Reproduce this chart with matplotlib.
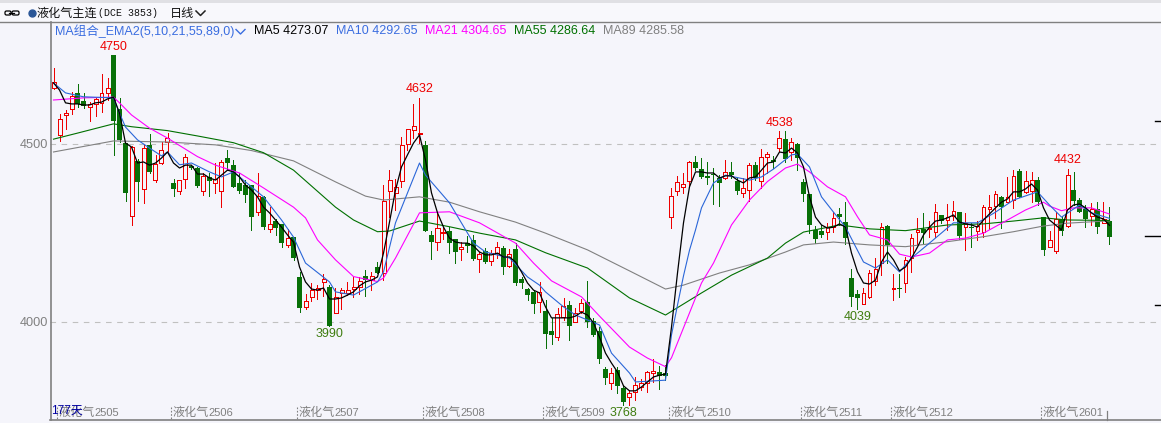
import matplotlib
matplotlib.use('Agg')
import matplotlib.pyplot as plt
from matplotlib.patches import Rectangle, FancyBboxPatch
from matplotlib.lines import Line2D

plt.rcParams['font.family'] = ['Noto Sans CJK SC', 'DejaVu Sans']

W, H = 1161, 423
BG = '#f5f5fb'
RED = '#ee0000'
GREEN = '#087008'

opens = [4658, 4527, 4582, 4601, 4644, 4621, 4604, 4613, 4617, 4644,
         4750, 4599, 4503, 4300, 4454, 4376, 4498, 4400, 4447, 4506,
         4391, 4368, 4404, 4441, 4433, 4370, 4410, 4391, 4368, 4461,
         4442, 4391, 4386, 4386, 4311, 4352, 4264, 4286, 4277, 4217,
         4239, 4127, 4044, 4071, 4090, 4113, 4099, 4026, 4082, 4084,
         4095, 4101, 4131, 4119, 4155, 4138, 4368, 4365, 4398, 4500,
         4540, 4529, 4499, 4245, 4225, 4251, 4257, 4234, 4206, 4222,
         4231, 4177, 4200, 4174, 4194, 4208, 4160, 4207, 4122, 4094,
         4087, 4058, 4032, 3976, 3960, 4016, 4049, 4002, 4033, 4057,
         4005, 3976, 3868, 3831, 3867, 3816, 3792, 3806, 3820, 3831,
         3859, 3860, 3857, 4295, 4370, 4382, 4398, 4452, 4430, 4412,
         4417, 4407, 4405, 4423, 4398, 4363, 4371, 4442, 4398, 4464,
         4456, 4489, 4515, 4480, 4501, 4394, 4361, 4260, 4258, 4255,
         4267, 4304, 4281, 4124, 4080, 4053, 4073, 4116, 4166, 4271,
         4093, 4096, 4110, 4180, 4255, 4262, 4262, 4253, 4302, 4288,
         4299, 4310, 4267, 4269, 4258, 4255, 4319, 4328, 4353, 4339,
         4343, 4426, 4366, 4370, 4400, 4295, 4213, 4200, 4290, 4272,
         4372, 4343, 4318, 4300, 4318, 4279, 4285]
closes = [4676, 4573, 4588, 4636, 4614, 4608, 4614, 4629, 4646, 4660,
          4567, 4513, 4365, 4492, 4396, 4489, 4423, 4445, 4484, 4517,
          4375, 4399, 4464, 4434, 4383, 4412, 4398, 4403, 4450, 4449,
          4382, 4368, 4358, 4295, 4356, 4269, 4276, 4266, 4224, 4236,
          4182, 4042, 4061, 4090, 4098, 4121, 3991, 4073, 4090, 4090,
          4099, 4117, 4119, 4132, 4140, 4342, 4400, 4382, 4498, 4543,
          4551, 4531, 4258, 4226, 4265, 4255, 4222, 4199, 4211, 4216,
          4178, 4192, 4171, 4194, 4213, 4157, 4192, 4112, 4112, 4077,
          4052, 4085, 3968, 3965, 4023, 4047, 3991, 4028, 4054, 4002,
          3965, 3897, 3845, 3857, 3823, 3776, 3801, 3825, 3829, 3860,
          3863, 3851, 3851, 4355, 4394, 4389, 4452, 4433, 4410, 4407,
          4413, 4393, 4422, 4414, 4368, 4377, 4442, 4407, 4464, 4472,
          4450, 4519, 4460, 4508, 4461, 4360, 4274, 4235, 4246, 4267,
          4293, 4295, 4238, 4073, 4070, 4082, 4138, 4149, 4269, 4218,
          4096, 4093, 4175, 4237, 4260, 4252, 4266, 4311, 4285, 4295,
          4312, 4243, 4279, 4265, 4271, 4324, 4325, 4360, 4325, 4352,
          4411, 4352, 4397, 4399, 4338, 4205, 4231, 4290, 4258, 4413,
          4342, 4310, 4290, 4318, 4269, 4291, 4241]
highs = [4714, 4585, 4597, 4648, 4670, 4644, 4620, 4634, 4698, 4686,
         4750, 4630, 4503, 4497, 4458, 4498, 4530, 4470, 4508, 4533,
         4402, 4399, 4473, 4443, 4438, 4419, 4419, 4447, 4456, 4485,
         4456, 4419, 4400, 4386, 4419, 4355, 4325, 4292, 4277, 4264,
         4239, 4141, 4080, 4110, 4105, 4136, 4105, 4096, 4096, 4113,
         4129, 4129, 4147, 4141, 4169, 4386, 4428, 4403, 4520, 4543,
         4614, 4632, 4510, 4257, 4307, 4269, 4269, 4234, 4227, 4244,
         4246, 4199, 4208, 4204, 4227, 4215, 4206, 4222, 4129, 4096,
         4091, 4113, 4063, 4012, 4040, 4068, 4060, 4040, 4066, 4117,
         4012, 3988, 3876, 3871, 3876, 3824, 3809, 3846, 3841, 3865,
         3897, 3878, 3881, 4377, 4412, 4419, 4455, 4468, 4463, 4452,
         4433, 4414, 4456, 4452, 4405, 4405, 4447, 4452, 4487, 4478,
         4468, 4538, 4538, 4517, 4503, 4402, 4361, 4271, 4274, 4279,
         4311, 4321, 4338, 4149, 4091, 4096, 4148, 4180, 4279, 4274,
         4136, 4136, 4185, 4249, 4293, 4307, 4285, 4332, 4302, 4332,
         4341, 4310, 4307, 4279, 4285, 4330, 4358, 4368, 4355, 4408,
         4428, 4430, 4426, 4422, 4408, 4295, 4258, 4309, 4299, 4432,
         4424, 4351, 4330, 4335, 4339, 4339, 4324]
lows = [4655, 4511, 4544, 4586, 4604, 4602, 4567, 4580, 4592, 4625,
        4470, 4508, 4341, 4273, 4340, 4337, 4420, 4396, 4445, 4475,
        4354, 4361, 4377, 4431, 4382, 4358, 4355, 4365, 4325, 4428,
        4382, 4365, 4339, 4260, 4302, 4264, 4253, 4246, 4213, 4213,
        4175, 4030, 4038, 4061, 4066, 4075, 3990, 4026, 4038, 4077,
        4071, 4080, 4075, 4091, 4138, 4120, 4297, 4316, 4382, 4485,
        4517, 4503, 4258, 4178, 4204, 4235, 4196, 4166, 4176, 4199,
        4176, 4143, 4166, 4162, 4180, 4136, 4157, 4106, 4096, 4063,
        4028, 4030, 3929, 3940, 3951, 4007, 3951, 4002, 4026, 3988,
        3962, 3885, 3826, 3813, 3801, 3768, 3768, 3782, 3809, 3806,
        3834, 3812, 3839, 4266, 4358, 4363, 4386, 4428, 4407, 4389,
        4333, 4328, 4403, 4405, 4361, 4352, 4341, 4400, 4377, 4419,
        4433, 4483, 4452, 4456, 4428, 4342, 4251, 4224, 4239, 4235,
        4255, 4274, 4221, 4047, 4039, 4052, 4068, 4106, 4134, 4166,
        4063, 4072, 4087, 4143, 4221, 4222, 4241, 4241, 4279, 4260,
        4288, 4234, 4204, 4213, 4232, 4241, 4262, 4293, 4265, 4339,
        4321, 4352, 4363, 4338, 4330, 4190, 4211, 4196, 4246, 4267,
        4330, 4309, 4269, 4274, 4252, 4279, 4221]

ma5 = [4673, 4653, 4617, 4614, 4614, 4611, 4611, 4617, 4619, 4628,
       4633, 4588, 4504, 4493, 4448, 4451, 4442, 4448, 4462, 4479,
       4448, 4434, 4442, 4442, 4417, 4417, 4406, 4400, 4414, 4428,
       4423, 4409, 4386, 4372, 4353, 4324, 4308, 4288, 4268, 4246,
       4226, 4156, 4114, 4094, 4091, 4097, 4066, 4066, 4069, 4077,
       4086, 4103, 4114, 4119, 4128, 4195, 4282, 4372, 4437, 4471,
       4504, 4527, 4456, 4364, 4308, 4268, 4237, 4226, 4223, 4223,
       4215, 4198, 4190, 4190, 4195, 4184, 4184, 4170, 4142, 4111,
       4091, 4083, 4044, 4013, 4013, 4013, 4013, 4018, 4029, 4021,
       3999, 3959, 3914, 3886, 3861, 3822, 3808, 3808, 3819, 3833,
       3847, 3852, 3855, 3987, 4139, 4280, 4381, 4423, 4423, 4420,
       4420, 4406, 4412, 4412, 4400, 4392, 4406, 4409, 4428, 4448,
       4451, 4479, 4476, 4490, 4476, 4437, 4353, 4296, 4274, 4265,
       4268, 4277, 4268, 4195, 4142, 4111, 4108, 4119, 4170, 4198,
       4176, 4145, 4156, 4181, 4212, 4246, 4268, 4285, 4288, 4294,
       4302, 4282, 4277, 4274, 4268, 4288, 4305, 4322, 4338, 4347,
       4367, 4367, 4375, 4389, 4372, 4322, 4288, 4274, 4260, 4316,
       4330, 4333, 4322, 4308, 4296, 4291, 4273.07]

ma10_i = [0, 2, 5, 10, 11, 12, 14, 16, 18, 19, 21, 23, 26, 28, 30, 32, 35, 38, 40, 42,
          46, 47, 50, 54, 55, 57, 61, 62, 66, 70, 72, 76, 79, 81, 82, 85, 87, 91, 93, 96,
          97, 102, 103, 104, 105, 106, 107, 108, 110, 112, 116, 118, 120, 123, 124, 126,
          128, 130, 132, 135, 137, 139, 141, 143, 146, 150, 154, 157, 160, 164, 166, 168,
          171, 173, 176]
ma10 = [4673, 4645, 4634, 4631, 4588, 4549, 4513, 4490, 4468, 4479, 4443, 4448, 4423, 4409, 4423, 4395, 4353, 4288, 4240, 4167,
        4114, 4086, 4077, 4114, 4142, 4280, 4448, 4414, 4336, 4223, 4198, 4181, 4128, 4105, 4086, 4044, 4021, 3993, 3914, 3858,
        3833, 3838, 3965, 4049, 4131, 4203, 4260, 4322, 4392, 4414, 4400, 4409, 4431, 4471, 4473, 4437,
        4353, 4310, 4268, 4170, 4153, 4176, 4142, 4181, 4223, 4280, 4280, 4310, 4344, 4367, 4330, 4296,
        4330, 4308, 4292.65]

ma21_i = [0, 5, 10, 11, 13, 16, 19, 24, 27, 31, 35, 40, 42, 44, 47, 50, 54, 55, 57, 61,
          66, 71, 77, 80, 83, 88, 91, 96, 99, 102, 103, 105, 108, 110, 113, 116, 119, 122, 124, 126,
          129, 132, 134, 136, 139, 141, 143, 146, 149, 152, 155, 159, 162, 165, 166, 168, 170, 173, 176]
ma21 = [4625, 4631, 4633, 4617, 4583, 4546, 4518, 4466, 4442, 4420, 4378, 4324, 4294, 4232, 4176, 4129, 4115, 4125, 4181, 4308,
        4311, 4280, 4223, 4167, 4117, 4072, 4018, 3931, 3900, 3876, 3901, 3985, 4111, 4167, 4274, 4344, 4396, 4434, 4445, 4423,
        4381, 4353, 4297, 4246, 4232, 4192, 4184, 4195, 4232, 4237, 4251, 4288, 4316, 4338, 4327, 4314, 4322, 4322, 4304.65]

ma55_i = [0, 4, 10, 13, 19, 24, 30, 35, 40, 47, 50, 54, 56, 61, 66, 71, 77, 82, 89, 93,
          96, 102, 108, 113, 119, 122, 125, 131, 136, 142, 149, 155, 160, 165, 169, 176]
ma55 = [4515, 4532, 4558, 4550, 4539, 4524, 4505, 4477, 4428, 4324, 4288, 4255, 4257, 4285, 4269, 4251, 4232, 4196, 4153, 4105,
        4069, 4021, 4083, 4133, 4181, 4223, 4254, 4274, 4263, 4258, 4274, 4277, 4285, 4294, 4288, 4286.64]

ma89_i = [0, 10, 19, 27, 33, 40, 47, 52, 55, 61, 66, 71, 77, 82, 89, 96, 102, 105, 111, 116,
          122, 125, 130, 136, 142, 149, 155, 160, 165, 169, 176]
ma89 = [4479, 4510, 4507, 4499, 4483, 4454, 4395, 4355, 4344, 4353, 4338, 4311, 4282, 4251, 4204, 4145, 4094, 4105, 4139, 4162,
        4198, 4218, 4226, 4218, 4213, 4227, 4241, 4255, 4271, 4279, 4285.58]

month_labels = ['液化气2505', '液化气2506', '液化气2507', '液化气2508', '液化气2509',
                '液化气2510', '液化气2511', '液化气2512', '液化气2601']
month_idx = [1, 20, 41, 62, 82, 103, 125, 140, 165]
peaks = [(10, 4750, True), (61, 4632, True), (121, 4538, True), (169, 4432, True),
         (46, 3990, False), (134, 4039, False), (95, 3768, False)]


def main():
    fig = plt.figure(figsize=(W / 100, H / 100), dpi=100, facecolor=BG)

    # pixel overlay for the header and the frame
    pix = fig.add_axes([0, 0, 1, 1], zorder=5)
    pix.set_xlim(0, W)
    pix.set_ylim(H, 0)
    pix.axis('off')
    pix.patch.set_alpha(0)

    ax = fig.add_axes([50 / W, (H - 420) / H, (W - 50) / W, 398 / H], zorder=1)
    ax.set_facecolor(BG)
    # 6 px per candle, 500 price units = 178 px
    ax.set_xlim((50 - 53.5) / 6, (W - 53.5) / 6)
    ax.set_ylim(4000 - (420 - 322.5) * 500 / 178, 4500 + (144.5 - 22) * 500 / 178)
    for s in ax.spines.values():
        s.set_visible(False)
    ax.set_xticks([])
    ax.set_yticks([])

    for p in (4500, 4000):
        ax.axhline(p, color='#c0c0c0', lw=0.8, dashes=(5, 5), zorder=1)

    for i in range(len(opens)):
        up = closes[i] >= opens[i]
        c = RED if up else GREEN
        ax.vlines(i, lows[i], highs[i], color=c, lw=0.72, zorder=2, antialiased=False)
        bottom = min(opens[i], closes[i])
        height = abs(closes[i] - opens[i])
        if up:
            ax.bar(i, height, bottom=bottom, width=4 / 6, facecolor=BG, edgecolor=c,
                   lw=0.72, zorder=3, antialiased=False)
        else:
            ax.bar(i, height, bottom=bottom, width=5 / 6, facecolor=GREEN, lw=0,
                   zorder=3, antialiased=False)

    days = list(range(len(ma5)))
    ax.plot(ma89_i, ma89, color='#808080', lw=0.8, zorder=4)
    ax.plot(ma55_i, ma55, color='#007000', lw=0.8, zorder=4)
    ax.plot(ma21_i, ma21, color='#ff00ff', lw=0.8, zorder=4)
    ax.plot(ma10_i, ma10, color='#2a66d8', lw=0.8, zorder=5)
    ax.plot(days, ma5, color='black', lw=0.9, zorder=6)

    for i, val, up in peaks:
        off = 6 if up else -6
        ax.annotate(str(val), (i, val), xytext=(0, off), textcoords='offset points',
                    ha='center', va='center', fontsize=9,
                    color=RED if up else '#3f7d10', zorder=8,
                    family=['Liberation Sans', 'DejaVu Sans'])

    # header
    pix.add_patch(Rectangle((0, 0), W, 3, facecolor='#e0e0e4', lw=0))
    pix.add_patch(Rectangle((0, 3), W, 19.5, facecolor='#f8f8fc', lw=0))
    pix.add_line(Line2D([0, W], [22.5, 22.5], color='#808080', lw=1.0))
    pix.add_line(Line2D([50.5, 50.5], [22, 420], color='#808080', lw=1.2))
    pix.add_line(Line2D([50, W], [420.5, 420.5], color='#808080', lw=1.2))
    pix.add_patch(FancyBboxPatch((5, 11), 6, 4, boxstyle='round,pad=0,rounding_size=1.5',
                                 fc='none', ec='black', lw=0.9))
    pix.add_patch(FancyBboxPatch((12, 11), 7, 4, boxstyle='round,pad=0,rounding_size=1.5',
                                 fc='none', ec='black', lw=0.9))
    pix.add_line(Line2D([9, 14], [13, 13], color='black', lw=0.9))
    pix.plot([31.5], [13.5], 'o', color='#2b5797', ms=5)
    pix.text(37, 13.5, '液化气主连', fontsize=8.7, va='center', ha='left', color='#111111')
    pix.text(98, 13.5, '(DCE 3853)', fontsize=7.2, va='center', ha='left', color='#111111',
             family=['Liberation Mono', 'DejaVu Sans'])
    pix.text(170, 13.5, '日线', fontsize=8.7, va='center', ha='left', color='#111111')
    pix.plot([196, 200.5, 205], [11, 15.5, 11], color='#222222', lw=1.1)

    lab_fam = ['Liberation Sans', 'Noto Sans CJK SC']
    blue = '#3a6de0'
    pix.text(55, 31, 'MA组合_EMA2(5,10,21,55,89,0)', fontsize=9, va='center', color=blue, family=lab_fam)
    pix.plot([236, 240.5, 245], [29.5, 34, 29.5], color=blue, lw=1.0)
    pix.text(254, 31, 'MA5 4273.07', fontsize=9, va='center', color='black', family=lab_fam)
    pix.text(336, 31, 'MA10 4292.65', fontsize=9, va='center', color=blue, family=lab_fam)
    pix.text(425, 31, 'MA21 4304.65', fontsize=9, va='center', color='#ff00ff', family=lab_fam)
    pix.text(514, 31, 'MA55 4286.64', fontsize=9, va='center', color='#007000', family=lab_fam)
    pix.text(603, 31, 'MA89 4285.58', fontsize=9, va='center', color='#808080', family=lab_fam)

    # price labels sit left of the axis
    pix.text(48, 144.5, '4500', fontsize=9.2, ha='right', va='center', color='#808080', family=lab_fam)
    pix.text(48, 322.5, '4000', fontsize=9.2, ha='right', va='center', color='#808080', family=lab_fam)

    # right side marks
    for y, x0 in ((121.5, 1155), (236.5, 1145), (305.5, 1155)):
        pix.add_line(Line2D([x0, W], [y, y], color='black', lw=1.0))

    # month labels along the bottom
    for i, name in zip(month_idx, month_labels):
        x = 53.3 + 6 * i - 2
        pix.add_line(Line2D([x, x], [407, 420], color='#808080', lw=0.8, dashes=(1.5, 1.5)))
        pix.text(x + 1, 412.5, name[:3], fontsize=8.7, va='center', color='#808080')
        pix.text(x + 37, 412.5, name[3:], fontsize=8, va='center', color='#808080', family=lab_fam)
    pix.add_line(Line2D([1106.5, 1106.5], [411, 420], color='#808080', lw=0.9))
    pix.text(51, 411, '177天', fontsize=8.6, va='center', color='#0000a0', family=lab_fam)

    fig.savefig('out.png', dpi=100, facecolor=BG)


if __name__ == '__main__':
    main()
